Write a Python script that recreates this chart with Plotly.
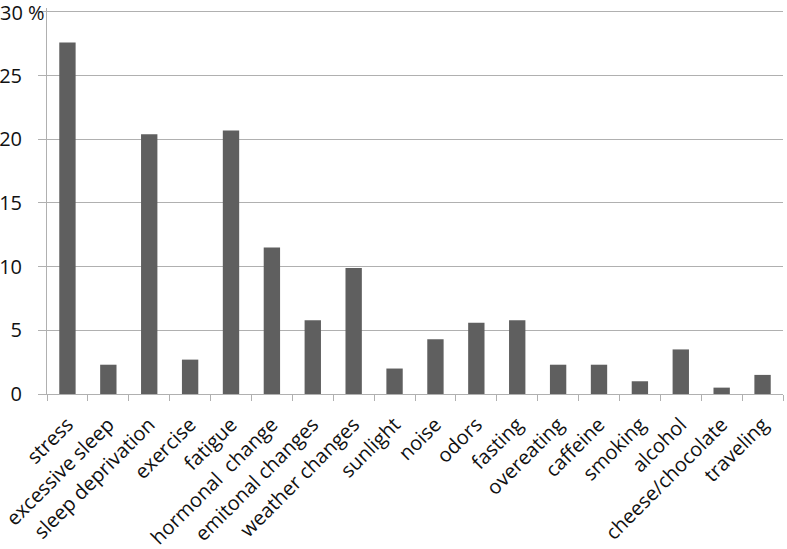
import plotly.graph_objects as go

triggers = ["stress", "excessive sleep", "sleep deprivation", "exercise", "fatigue",
            "hormonal  change", "emitonal changes", "weather changes", "sunlight", "noise",
            "odors", "fasting", "overeating", "caffeine", "smoking", "alcohol",
            "cheese/chocolate", "traveling"]
percent = [27.6, 2.3, 20.4, 2.7, 20.7, 11.5, 5.8, 9.9, 2.0, 4.3,
           5.6, 5.8, 2.3, 2.3, 1.0, 3.5, 0.5, 1.5]
tick_vals = [0, 5, 10, 15, 20, 25, 30]
tick_text = ["0", "5", "10", "15", "20", "25", ""]
top_label = "30 %"

fig = go.Figure(go.Bar(x=triggers, y=percent, marker_color="#5f5f5f", marker_line_width=0))

fig.update_layout(
    width=787, height=549,
    margin=dict(l=47, r=4, t=8, b=155),
    plot_bgcolor="white", paper_bgcolor="white",
    bargap=0.6,
    showlegend=False,
    font=dict(family="Open Sans, Noto Sans, sans-serif", size=20, color="#111111"),
)
fig.update_xaxes(
    tickangle=-45, tickson="boundaries", ticks="outside", ticklen=6,
    tickcolor="#b0b0b0", showline=True, linecolor="#b0b0b0", linewidth=1,
    showgrid=False, automargin=False, ticklabelstandoff=10,
)
fig.update_yaxes(
    range=[0, 30.31], tickvals=tick_vals, ticktext=tick_text,
    ticks="outside", ticklen=8, tickcolor="#b0b0b0",
    showgrid=True, gridcolor="#b0b0b0", gridwidth=1,
    showline=True, linecolor="#b0b0b0", zeroline=False, automargin=False,
    ticklabelstandoff=12, ticklabeloverflow="allow",
)
# top tick label carries the unit, drawn as its own text so it isn't clipped
fig.add_annotation(text=top_label, x=-0.002, xref="paper", y=30, yref="y",
                   xanchor="right", yanchor="middle", showarrow=False,
                   font=dict(size=20), borderpad=0, yshift=-1)

fig.write_html("out.html", config={"displayModeBar": False},
               post_script="document.body.style.margin='0';")
